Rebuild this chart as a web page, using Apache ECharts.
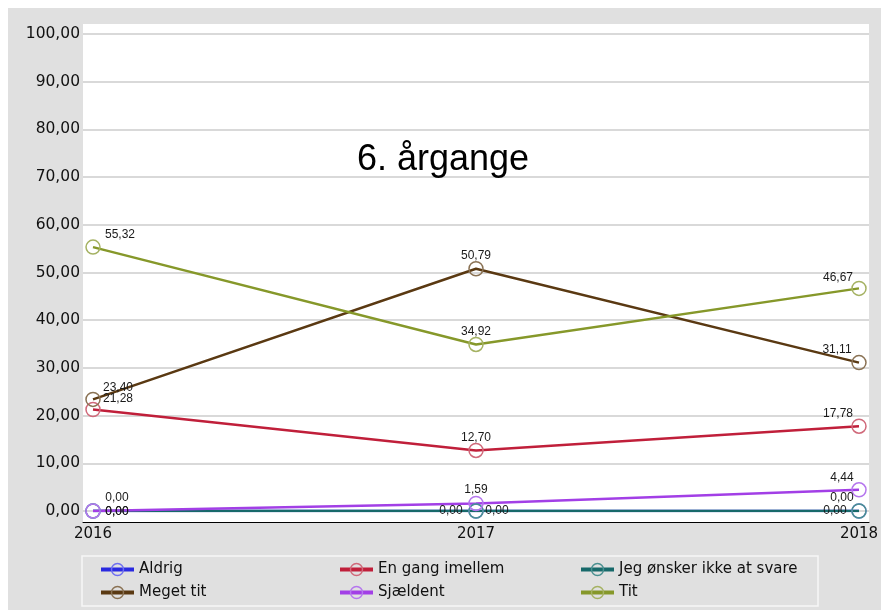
<!DOCTYPE html>
<html>
<head>
<meta charset="utf-8">
<script src="https://cdn.jsdelivr.net/npm/echarts@6/dist/echarts.min.js"></script>
<style>
html,body{margin:0;padding:0;background:#fff;}
#chart{width:883px;height:613px;}
</style>
</head>
<body>
<div id="chart"></div>
<script>
// ---- data ----
var years = ['2016', '2017', '2018'];
var seriesNames = ['Aldrig', 'En gang imellem', 'Jeg ønsker ikke at svare', 'Meget tit', 'Sjældent', 'Tit'];
var aldrig = [0, 0, 0];
var enGangImellem = [21.28, 12.70, 17.78];
var jegOnskerIkke = [0, 0, 0];
var megetTit = [23.40, 50.79, 31.11];
var sjaeldent = [0, 1.59, 4.44];
var tit = [55.32, 34.92, 46.67];
var yTicks = [0, 10, 20, 30, 40, 50, 60, 70, 80, 90, 100];
var titleText = '6. årgange';

// ---- styles ----
var lineColors = ['#2a2ae0', '#c01f3a', '#17696a', '#5a3912', '#a23fe6', '#86982a'];
var ringColors = ['#6f6ff0', '#d0697a', '#4a9090', '#8a7254', '#b576ee', '#a5b263'];
var labelOffsets = [
  [[24, 1], [-25, 0], [-17, -13]],
  [[25, -11], [0, -13], [-21, -13]],
  [[24, 1], [21, 0], [-24, 0]],
  [[25, -12], [0, -13], [-22, -13]],
  [[24, -13], [0, -14], [-17, -12]],
  [[27, -12], [0, -13], [-21, -11]]
];
var allValues = [aldrig, enGangImellem, jegOnskerIkke, megetTit, sjaeldent, tit];

function fmt(v) { return v.toFixed(2).replace('.', ','); }

var series = seriesNames.map(function (name, si) {
  return {
    name: name,
    type: 'line',
    xAxisIndex: 2,
    yAxisIndex: 2,
    symbol: 'circle',
    symbolSize: 14,
    lineStyle: { color: lineColors[si], width: 2.5 },
    itemStyle: { color: 'rgba(0,0,0,0)', borderColor: ringColors[si], borderWidth: 1.5 },
    emphasis: { disabled: true },
    data: allValues[si].map(function (v, i) {
      return {
        value: v,
        label: {
          show: true,
          position: 'inside',
          offset: labelOffsets[si][i],
          formatter: function (p) { return fmt(p.value); },
          fontFamily: 'Liberation Sans, Arial, sans-serif',
          fontSize: 12,
          color: '#1a1a1a'
        }
      };
    })
  };
});

var legendCommon = {
  orient: 'vertical',
  itemWidth: 33,
  itemHeight: 15,
  itemGap: 8,
  padding: 0,
  top: 562,
  textStyle: { fontFamily: 'DejaVu Sans, Verdana, sans-serif', fontSize: 15, color: '#111' },
  lineStyle: { width: 4 },
  itemStyle: { borderWidth: 1.5 },
  selectedMode: false
};

var chart = echarts.init(document.getElementById('chart'));
chart.setOption({
  backgroundColor: '#ffffff',
  animation: false,
  title: {
    text: titleText,
    left: 357,
    top: 142,
    padding: 0,
    textStyle: { fontFamily: 'Liberation Sans, Arial, sans-serif', fontSize: 36, fontWeight: 'normal', color: '#000' }
  },
  graphic: [
    { type: 'rect', z: -10, shape: { x: 8, y: 8, width: 873, height: 602 }, style: { fill: '#e0e0e0' }, silent: true },
    { type: 'rect', z: 5, shape: { x: 82, y: 556, width: 736, height: 50 }, style: { fill: 'none', stroke: '#f6f6f6', lineWidth: 1.5 }, silent: true }
  ],
  legend: [
    Object.assign({ left: 99, data: [seriesNames[0], seriesNames[3]] }, legendCommon),
    Object.assign({ left: 338, data: [seriesNames[1], seriesNames[4]] }, legendCommon),
    Object.assign({ left: 579, data: [seriesNames[2], seriesNames[5]] }, legendCommon)
  ],
  grid: [
    { left: 83, right: 14, top: 24, bottom: 91, show: true, backgroundColor: '#ffffff', borderWidth: 0 },
    { left: 83, right: 14, top: 34, bottom: 102 },
    { left: 93, right: 24, top: 34, bottom: 102 }
  ],
  xAxis: [
    { gridIndex: 0, type: 'category', data: years, axisLine: { show: true, lineStyle: { color: '#000', width: 1 } }, axisTick: { show: false }, axisLabel: { show: false }, splitLine: { show: false } },
    { gridIndex: 1, type: 'category', data: years, show: false },
    {
      gridIndex: 2, type: 'category', data: years, boundaryGap: false,
      axisLine: { show: false }, axisTick: { show: false }, splitLine: { show: false },
      axisLabel: { margin: 16, fontFamily: 'DejaVu Sans, Verdana, sans-serif', fontSize: 15, color: '#111' }
    }
  ],
  yAxis: [
    { gridIndex: 0, type: 'value', show: false },
    {
      gridIndex: 1, type: 'value', min: yTicks[0], max: yTicks[yTicks.length - 1], interval: yTicks[1] - yTicks[0],
      axisLine: { show: false }, axisTick: { show: false },
      splitLine: { show: true, lineStyle: { color: '#cccccc', width: 1.5 } },
      axisLabel: { margin: 3, formatter: function (v) { return fmt(v); }, fontFamily: 'DejaVu Sans, Verdana, sans-serif', fontSize: 15.5, color: '#111' }
    },
    { gridIndex: 2, type: 'value', min: 0, max: 100, show: false }
  ],
  series: series
});
</script>
</body>
</html>
